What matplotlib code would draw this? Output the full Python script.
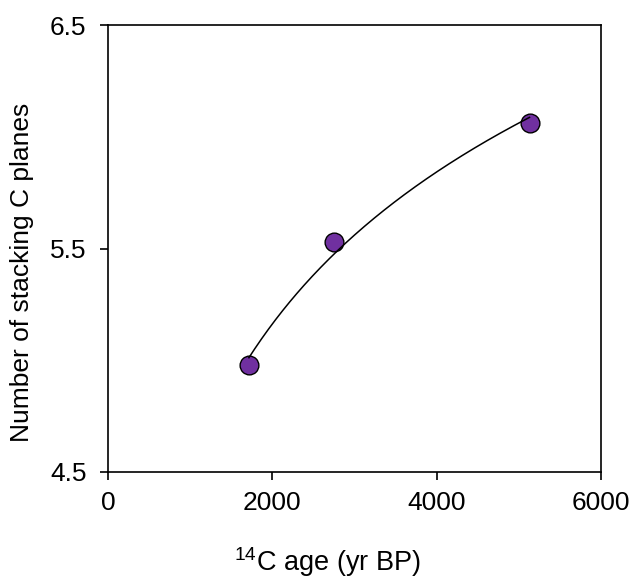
import numpy as np
import matplotlib
matplotlib.use('Agg')
import matplotlib.pyplot as plt

plt.rcParams['font.family'] = ['Liberation Sans', 'DejaVu Sans']
plt.rcParams['mathtext.fontset'] = 'custom'
plt.rcParams['mathtext.rm'] = 'Liberation Sans'

# data
age = [1715, 2750, 5130]
stacking = [4.98, 5.53, 6.063]
x_ticks = [0, 2000, 4000, 6000]
y_ticks = [4.5, 5.5, 6.5]

# logarithmic trend line fitted to the points
a, b = np.polyfit(np.log(age), stacking, 1)
xfit = np.linspace(min(age), max(age), 200)
yfit = a * np.log(xfit) + b

fig = plt.figure(figsize=(6.37, 5.78), dpi=100)
ax = fig.add_axes([0.1695, 0.1834, 0.774, 0.7733])

ax.plot(xfit, yfit, color='black', linewidth=1.1, zorder=3)
ax.plot(age, stacking, 'o', markersize=13.5, markerfacecolor='#7030A0',
        markeredgecolor='black', markeredgewidth=1.0, zorder=2)

ax.set_xlim(0, 6000)
ax.set_ylim(4.5, 6.5)
ax.set_xticks(x_ticks)
ax.set_yticks(y_ticks)
ax.set_yticklabels([str(v) for v in y_ticks])
ax.tick_params(axis='both', direction='out', length=5.5, width=1.2, labelsize=19)
ax.tick_params(axis='x', pad=8)
ax.tick_params(axis='y', pad=10)
for s in ax.spines.values():
    s.set_linewidth(1.2)

fig.text(22 / 637, 1 - 272 / 578, 'Number of stacking C planes', rotation=90,
         ha='center', va='center', fontsize=19)
fig.text(327 / 637, 1 - 562 / 578, r'$^{\mathregular{14}}$C age (yr BP)',
         ha='center', va='center', fontsize=19.5)

fig.savefig('out.png', dpi=100)
